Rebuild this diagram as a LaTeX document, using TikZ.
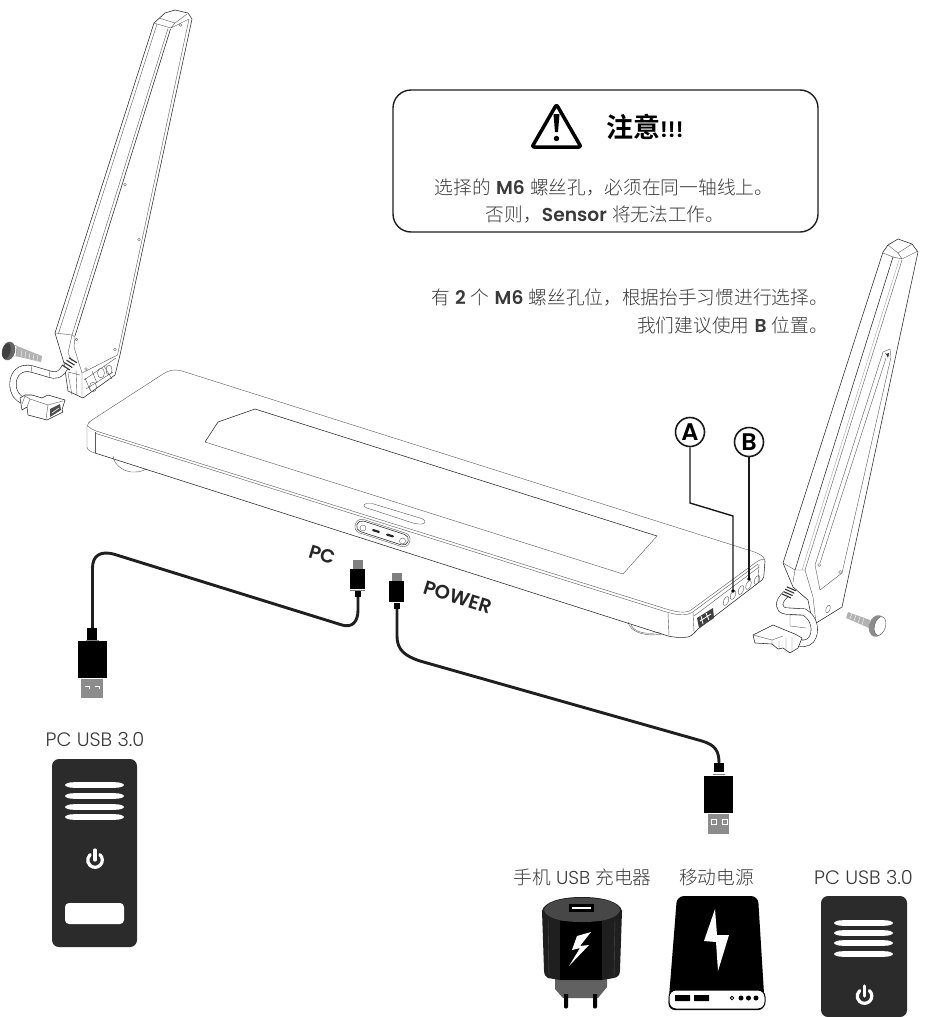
\documentclass[tikz,border=0pt]{standalone}
\usepackage{fontspec}
\setmainfont{Poppins Light}
\newfontfamily\lb{Poppins SemiBold}
\newfontfamily\cjk{Noto Sans CJK SC Light}
\newfontfamily\cjb{Noto Sans CJK SC Bold}
\definecolor{tower}{HTML}{2B2B2B}
\definecolor{txt}{HTML}{3A3A3A}
\tikzset{
 ln/.style={draw=black!85,line width=.55pt,line join=round},
 thin ln/.style={draw=black!65,line width=.4pt,line join=round},
 leader/.style={draw=black!90,line width=1.4pt,line join=miter},
 cablepath/.style={draw=black!88,line width=2.9pt,line join=round},
 tube/.style={draw=black!85,line width=7pt,line cap=butt,preaction={}},
 tubein/.style={draw=white,line width=5.8pt,line cap=butt},
 lbl/.style={text=txt,inner sep=0pt,font=\fontsize{19.4}{20}\selectfont},
 note/.style={text=txt,inner sep=0pt,font=\fontsize{18.7}{19}\selectfont},
 circmark/.style={circle,draw=black!90,line width=1.6pt,minimum size=29pt,inner sep=0pt,fill=white,font=\lb\fontsize{24}{24}\selectfont},
 hole/.style={draw=black!60,line width=.35pt},
 towerbox/.style={fill=tower},
}
\newcommand{\pwr}[2]{%
 \draw[white,line width=3.2pt,line cap=round] (#1,#2) ++(4.9,-5.4) arc[start angle=48,end angle=-228,radius=7.3pt];
 \draw[white,line width=3.2pt,line cap=round] (#1,#2) ++(0,-10) -- ++(0,10);
}
\newcommand{\vents}[3]{%
 \foreach \yy in {#3}{ \fill[white] (#1,\yy) .. controls (#1+1,\yy-1.8) and (#1+4,\yy-2.8) .. (#1+9,\yy-2.8) -- (#2-9,\yy-2.8) .. controls (#2-4,\yy-2.8) and (#2-1,\yy-1.8) .. (#2,\yy) .. controls (#2-1,\yy+1.8) and (#2-4,\yy+2.8) .. (#2-9,\yy+2.8) -- (#1+9,\yy+2.8) .. controls (#1+4,\yy+2.8) and (#1+1,\yy+1.8) .. (#1,\yy) -- cycle; }
}
\begin{document}
\begin{tikzpicture}[x=1pt,y=-1pt]
\useasboundingbox (0,0) rectangle (938,1017);
%% ---- callout
\draw[black!88,line width=1.4pt,rounded corners=18pt,fill=white] (393,90) rectangle (818,232);
\draw[black,line width=3.5pt,line join=round,rounded corners=2pt] (556.5,104.5) -- (581,147) -- (532,147) -- cycle;
\fill[black] (553.5,114) -- (559.5,114) -- (558,132) -- (555,132) -- cycle;
\fill[black] (556.5,138.5) circle[radius=2.7pt];
\node[anchor=west,inner sep=0pt,text=black] (title) at (606,127) {\cjb\fontsize{27}{27}\selectfont 注意\lb\fontsize{22}{22}\selectfont !!!};
\node[note] (l1) at (604,187) {{\cjk 选择的} {\lb M6} {\cjk 螺丝孔，必须在同一轴线上。}};
\node[note] (l2) at (605,215) {{\cjk 否则，}{\lb Sensor} {\cjk 将无法工作。}};
\node[note,anchor=east] (l3) at (828,298) {{\cjk 有} {\lb 2} {\cjk 个} {\lb M6} {\cjk 螺丝孔位，根据抬手习惯进行选择。}};
\node[note,anchor=east] (l4) at (828,325) {{\cjk 我们建议使用} {\lb B} {\cjk 位置。}};
%% ---- bar
\begin{scope}
\fill[white] (180,371) -- (753,552) -- (765,558) -- (763,578) -- (698,628) -- (688,637) -- (95,453) -- (87,447) -- (87,425) -- cycle;
% feet
\draw[thin ln] (113,456) .. controls (114,466) and (126,473) .. (135,472) .. controls (139,472) and (143,471) .. (146,469);
\draw[thin ln] (628,622) .. controls (630,632) and (645,637) .. (662,634);
\draw[thin ln] (631,625) .. controls (635,633) and (648,635) .. (660,632);
% top outline
\draw[thin ln] (92,420) -- (163,374) .. controls (169,370) and (174,369) .. (182,371) -- (745,549) .. controls (755,552) and (765,555) .. (765,561);
\draw[thin ln] (92,420) .. controls (89,422) and (87,424) .. (87,427) -- (87,447) .. controls (87,450) and (91,452) .. (95,453);
\draw[ln] (95,453) -- (668,636) .. controls (672,637) and (680,638) .. (688,637) .. controls (692,636) and (695,632) .. (698,629) -- (762,580) .. controls (764,578) and (764,576) .. (764,574) -- (765,561);
% front double line
\draw[thin ln] (88,426) .. controls (89,428) and (92,429) .. (96,431) -- (660,607) .. controls (675,612) and (685,614) .. (691,610) -- (755,563) .. controls (759,560) and (762,559) .. (765,559);
\draw[thin ln] (96,433.5) -- (660,610) .. controls (675,615) and (685,616.5) .. (692,612.5) -- (758,564) ;
\draw[thin ln] (95,432) -- (95,453);
\draw[thin ln] (668,613) -- (669,636);
\draw[thin ln] (693,612) -- (694,632);
\draw[thin ln] (759,564) -- (758,583);
% window
\draw[thin ln] (205,442) -- (623,574) -- (657,536);
\draw[ln] (205,442) -- (218,422) -- (255,409) -- (657,536);
% slot on top
\draw[thin ln] (367,503.5) .. controls (362,504) and (364,507) .. (367,508) -- (413,523) .. controls (418,524.5) and (426,525) .. (425,521) .. controls (424,519) and (422,519) .. (420,518) -- (372,503.5) -- cycle;
% pill
\draw[thin ln,fill=white,rotate around={-18:(382.5,533)},rounded corners=6.5pt] (354,526) rectangle (411,540);
\draw[ln,rotate around={-18:(382.5,533)},rounded corners=5.5pt] (355.5,527.5) rectangle (409.5,538.5);
\draw[thin ln] (363,528) circle[radius=3pt];
\draw[thin ln] (402.5,541) circle[radius=3pt];
\draw[line width=2.2pt,line cap=round,black!85,rotate around={-18:(376,531)}] (373,531) -- (379,531);
\draw[line width=2.2pt,line cap=round,black!85,rotate around={-18:(390,535.5)}] (387,535.5) -- (393,535.5);
% end holes
\foreach \hx/\hy in {726/601,733/595,741/590,748.5/585,757/580}{
 \draw[thin ln,rotate around={-22:(\hx,\hy)}] (\hx,\hy) ellipse[x radius=2.4pt,y radius=4.8pt];
}
% port
\fill[black!75] (697,618) -- (713,608) -- (714,618) -- (699,628) -- cycle;
\draw[white,line width=.8pt] (701,616) -- (703,624) (706,613) -- (709,620) (700,621) -- (711,614);
\draw[thin ln] (694,616) -- (759,567);
\end{scope}
%% ---- markers and leaders
\node[circmark] (A) at (690,432) {A};
\node[circmark] (B) at (749,442) {B};
\coordinate (holeA) at (733,591);
\coordinate (holeB) at (749,579);
\draw[leader] (A.south) -- (690,503) -- (733,516) -- (holeA);
\draw[leader] (B.south) -- (holeB);
\fill[black] (holeA) circle[radius=1.8pt] (holeB) circle[radius=1.8pt];
%% ---- left arm
\draw[ln,fill=white] (154,23) -- (165,13) -- (175,10) -- (188,13) -- (192,19) -- (120,355) -- (115,375) -- (83,398) -- (68,391) -- (64,363) -- (55,333) -- cycle;
\draw[thin ln] (154,23) -- (157,24) -- (171,28) -- (175,23) -- (187,14) (159,18) -- (175,23) (171,28) -- (189,19);
\draw[thin ln] (157,24) -- (58.5,333.5);
\draw[ln] (170.5,29) -- (75,336);
\draw[thin ln] (168,28.5) -- (72,335);
\draw[thin ln] (189,19) -- (117.5,355);
\draw[thin ln] (55,333) -- (72,335) -- (75,337) -- (74,347) -- (82,373) -- (82,397);
\draw[thin ln] (72,335) -- (68,353) -- (72,361) ;
\draw[thin ln] (82,373) -- (117.5,355);
\draw[thin ln] (68,373) -- (72,395) (76,370) -- (77,396);
\draw[thin ln] (68,372) -- (80,375);
\foreach \hx/\hy/\rx in {93/387/3.5,101/373/3.5,109/370/3}{\draw[thin ln] (\hx,\hy) ellipse[x radius=\rx pt,y radius=5pt];}
\draw[thin ln] (85,378) -- (90,390) (92,371) -- (97,383) (104,366) -- (112,379) (86,389) -- (113,372) (84,380) -- (116,358);
\foreach \hx/\hy in {180.5/25,125/184.5,139/239.5,76.5/339.5,115/349.5,86/369}{\draw[hole] (\hx,\hy) circle[radius=1.3pt];}
% left tube
\draw[tube] (65,367) .. controls (60,376) and (55,376) .. (49,374) -- (32,369) .. controls (20,366) and (13,374) .. (13,384) .. controls (13,393) and (17,398) .. (24,401);
\draw[tubein] (65,367) .. controls (60,376) and (55,376) .. (49,374) -- (32,369) .. controls (20,366) and (13,374) .. (13,384) .. controls (13,393) and (17,398) .. (24,401);
\draw[thin ln] (32,365) -- (31,373) (50,370) -- (49,378);
% left collar
\foreach \t in {0,1,2,3}{\draw[line width=1.1pt,black!80] (62+\t*2.3,365-\t*2.4) -- (70+\t*2.3,370-\t*2.4);}
% left connector
\draw[ln,fill=white] (20,398) -- (25,395) -- (32,395) -- (42,398) -- (48,395) -- (65,400) -- (62,410) -- (63,412) -- (47,420) -- (28,415) -- (27,407) -- (22,410) -- cycle;
\draw[thin ln] (27,407) -- (30,399) -- (48,405) -- (46,419) (48,405) -- (63,401) (30,399) -- (25,396) -- (22,404);
\fill[black!70] (50,409) -- (60,404) -- (61,410) -- (50,417) -- cycle;
\draw[white,line width=.6pt] (52,413) -- (59,408);
% left screw
\fill[black!30] (17,346) -- (42,356) -- (41,362) -- (15,356) -- cycle;
\draw[white,line width=.35pt] (22,350) -- (21,357) (26,351) -- (25,358) (30,353) -- (29,359) (34,354) -- (33,360) (38,355) -- (37,361);
\draw[black!50,line width=.4pt,fill=white] (14,345) -- (17,346) -- (16,356) -- (13,356) -- cycle;
\fill[black!60,rotate around={-14:(8.5,351)}] (8.5,351) ellipse[x radius=6.5pt,y radius=9.5pt];
\fill[black!75,rotate around={-14:(6.5,351)}] (6.5,351) ellipse[x radius=4pt,y radius=8pt];
%% ---- right arm
\draw[ln,fill=white] (883,252) -- (888,245) -- (898,239) -- (912,244) -- (918,252) -- (842,607) -- (813,625) -- (808,600) -- (793,587) -- (783,563) -- cycle;
\draw[thin ln] (883,253) -- (893,257) -- (902,259) -- (918,251) (902,259) -- (898,253) -- (912,244) (888,245) -- (898,253);
\draw[ln] (893,257) -- (795,570);
\draw[thin ln] (902,260) -- (805,570);
\draw[draw=black!35,line width=.4pt] (899,260) -- (802,570);
\draw[thin ln] (783,563) -- (795,570) -- (805,570) -- (813,597) -- (816,623);
\draw[thin ln] (795,570) -- (793,582);
% panel
\draw[thin ln] (890,349) -- (883,352) -- (815,565) -- (820,590) -- (842,573) -- (891,357) -- cycle;
\draw[thin ln] (885,353) -- (889,356) (886,358) -- (820,563);
\fill[black!80] (886,354) -- (889,353) -- (888,358) -- cycle;
\draw[hole] (819,565) circle[radius=1.5pt] (840,572) circle[radius=1.5pt];
\draw[thin ln,rotate around={-20:(828,609)}] (828,609) ellipse[x radius=2pt,y radius=4pt];
% right tube
\draw[tube] (786,594) .. controls (777,602) and (778,610) .. (786,611) -- (804,612) .. controls (815,618) and (817,632) .. (811,640) .. controls (807,644) and (802,644) .. (797,642);
\draw[tubein] (786,594) .. controls (777,602) and (778,610) .. (786,611) -- (804,612) .. controls (815,618) and (817,632) .. (811,640) .. controls (807,644) and (802,644) .. (797,642);
\draw[thin ln] (790,615) -- (790,626) -- (806,628) (790,615) -- (805,615);
\foreach \t in {0,1,2,3}{\draw[line width=1.1pt,black!80] (782+\t*1.6,594-\t*2.4) -- (791+\t*1.6,598-\t*2.4);}
% right connector
\draw[ln,fill=white] (753,635) -- (773,625) -- (785,630) -- (795,634) -- (802,638) -- (798,648) -- (790,653) -- (783,648) -- (778,649) -- (772,644) -- (755,643) -- cycle;
\draw[thin ln] (753,635) -- (772,640) -- (783,636) (772,640) -- (772,647) (779,641) -- (779,650) (786,638) -- (786,652) (792,637) -- (792,652);
% right screw
\fill[black!30] (848,612) -- (870,620) -- (869,628) -- (846,618) -- cycle;
\draw[white,line width=.35pt] (852,613) -- (850,619) (856,615) -- (854,621) (860,617) -- (858,623) (864,618) -- (862,625);
\fill[black!45,rotate around={-16:(877,626)}] (877,626) ellipse[x radius=8pt,y radius=11pt];
\fill[white,rotate around={-16:(880,626)}] (880,626) ellipse[x radius=5.5pt,y radius=9.5pt];
\draw[thin ln,rotate around={-16:(880,626)}] (880,626) ellipse[x radius=5.5pt,y radius=9.5pt];
%% ---- labels
\node[inner sep=0pt,text=black!85,rotate=-17] (pclabel) at (322,555) {\lb\fontsize{19}{19}\selectfont PC};
\node[inner sep=0pt,text=black!85,rotate=-17] (powerlabel) at (458,597) {\lb\fontsize{19.5}{19}\selectfont POWER};
%% ---- cable connectors
% micro PC
\node[fill=black,minimum width=15pt,minimum height=20pt,inner sep=0pt] (mpc) at (357.5,579) {};
\fill[black!50] (353,560) rectangle (363,568.5);
\fill[black] (355,590) rectangle (361,597);
\draw[black!50,line width=.6pt] (350,590) -- (365,590);
% micro POWER
\node[fill=black,minimum width=15pt,minimum height=21pt,inner sep=0pt] (mpow) at (396.5,591.5) {};
\fill[black!50] (392,573) rectangle (402,580.5);
\fill[black] (394,602.5) rectangle (400,609);
% USB left
\node[fill=black,minimum width=29pt,minimum height=37pt,inner sep=0pt] (uleft) at (92.5,659.5) {};
\fill[black] (87,628) rectangle (97,640);
\fill[black!45] (81,679) rectangle (103,698);
\draw[white,line width=.7pt] (89,689) -- (89,686) -- (85,686) (99,689) -- (99,686) -- (95,686);
\draw[black!50,line width=.6pt] (86,640.5) -- (99,640.5);
% USB right
\node[fill=black,minimum width=29pt,minimum height=37pt,inner sep=0pt] (uright) at (718.5,794.5) {};
\fill[black] (714,763) rectangle (724,772);
\draw[black!50,line width=.8pt] (713,774) -- (725,774);
\fill[black!45] (708,814) rectangle (729,834);
\draw[white,line width=.7pt] (711,819) rectangle (716,824) (722,819) rectangle (727,824);
% cables
\coordinate (cpc) at (358,597);
\coordinate (cpow) at (397,609);
\coordinate (cul) at (92.5,628);
\coordinate (cur) at (719,763);
\draw[cablepath] (cpc) -- (358,610) .. controls (358,622) and (352,628) .. (342,625) -- (115,554.5) .. controls (100,550) and (92.5,556) .. (92.5,568) -- (cul);
\draw[cablepath] (cpow) -- (397,636) .. controls (397,650) and (405,656) .. (420,661) -- (702,741) .. controls (716,745) and (719,752) .. (cur);
%% ---- left tower
\node[lbl] (pc1) at (95,739) {PC USB 3.0};
\fill[towerbox,rounded corners=7pt] (52,759) rectangle (137,947);
\vents{65}{124}{785,796,807,817}
\pwr{95}{860}
\fill[white,rounded corners=4pt] (65,903) rectangle (124,924);
%% ---- charger
\node[note,font=\fontsize{18.7}{19}\selectfont] (chg) at (582.5,877) {{\cjk 手机} USB {\cjk 充电器}};
\fill[black!62] (555,978) -- (607,978) -- (607,987) -- (598,998) -- (563,998) -- (555,989) -- cycle;
\fill[black] (564,994) -- (568,994) -- (568,1007) .. controls (568,1009) and (564,1009) .. (564,1007) -- cycle;
\fill[black] (593,994) -- (597,994) -- (597,1007) .. controls (597,1009) and (593,1009) .. (593,1007) -- cycle;
\fill[black!88] (542,911) .. controls (544,902) and (560,897) .. (582,897) .. controls (604,897) and (620,902) .. (622,911) -- (620,970) .. controls (620,975) and (618,977) .. (614,978) -- (602,980) -- (560,980) -- (548,978) .. controls (546,977) and (544,975) .. (544,970) -- cycle;
\fill[black] (560,921) rectangle (602,980);
\draw[black!70,line width=.4pt] (548,919) -- (549,977) (615,919) -- (614,977);
\fill[black!72] (544,910) .. controls (546,902) and (560,898) .. (582,898) .. controls (604,898) and (618,902) .. (620,910) .. controls (618,918) and (604,922) .. (582,922) .. controls (560,922) and (546,918) .. (544,910) -- cycle;
\fill[black] (569,904) rectangle (594,912);
\fill[white] (572,906.5) rectangle (591,909);
\fill[white] (591,932) -- (577,936) -- (572,950) -- (580,948) -- (569,966) -- (589,945) -- (580,946) -- cycle;
%% ---- power bank
\node[note] (bank) at (716.5,877) {\cjk 移动电源};
\fill[black,rounded corners=7pt] (677,896) -- (758,896) -- (765,1010) -- (668,1010) -- cycle;
\draw[black,line width=1pt,fill=white,rounded corners=7pt] (669,990) rectangle (765,1009);
\fill[black] (675,995) rectangle (690,1001) (694,995) rectangle (709,1001);
\draw[black,line width=.8pt] (732,998) circle[radius=1.8pt];
\fill[black] (741,998) circle[radius=2.5pt] (748.5,998) circle[radius=2.5pt] (756,998) circle[radius=2.5pt];
\fill[white] (715,909) -- (704,941) -- (716,942) -- (718,971) -- (729,935) -- (717,935) -- cycle;
%% ---- right tower
\node[lbl] (pc2) at (863.5,877) {PC USB 3.0};
\fill[towerbox,rounded corners=7pt] (821,1017) -- (821,896) -- (907,896) -- (907,1017) -- cycle;
\vents{834}{893}{923,933,943,954}
\pwr{864.5}{996}
\end{tikzpicture}
\end{document}
